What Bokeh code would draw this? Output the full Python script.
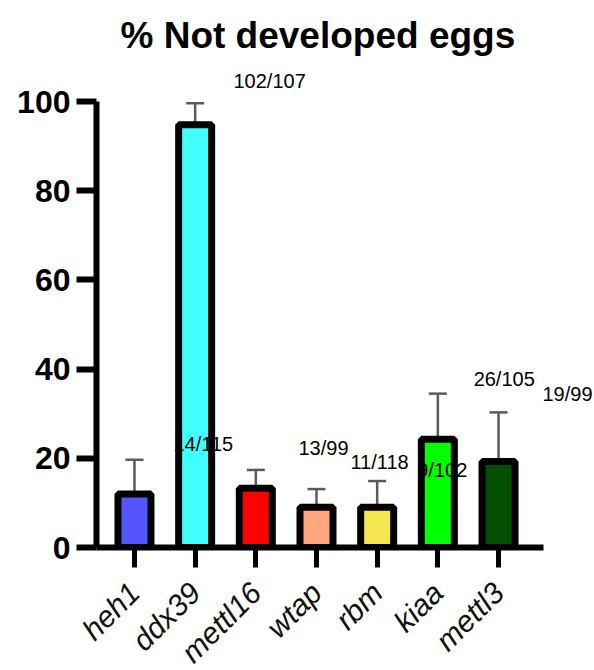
import numpy as np
from bokeh.plotting import figure
from bokeh.models import Range1d, FixedTicker, LabelSet, ColumnDataSource, Whisker, TeeHead
from bokeh.core.properties import value
from bokeh.embed import file_html
from bokeh.resources import INLINE

# ---- data ----
genes = ["heh1", "ddx39", "mettl16", "wtap", "rbm", "kiaa", "mettl3"]
pct_not_developed = [12.0, 94.8, 13.3, 9.0, 9.0, 24.3, 19.3]
err_sd = [7.7, 4.8, 4.1, 4.1, 5.9, 10.2, 11.0]
bar_colors = ["#5555FF", "#40FFFF", "#FF0000", "#FFA880", "#F5E650", "#00FF00", "#005000"]
count_labels = ["14/115", "102/107", "13/99", "11/118", "9/102", "26/105", "19/99"]
y_ticks = [0, 20, 40, 60, 80, 100]

# ---- layout of the count labels (as placed in the original) ----
label_dx = [0.643, 0.632, 0.703, 0.56, 0.66, 0.59, 0.725]
label_y = [23.3, 104.7, 22.4, 19.1, 17.3, 37.7, 34.5]

x = np.arange(len(genes))
upper = [v + e for v, e in zip(pct_not_developed, err_sd)]

src = ColumnDataSource(dict(x=x, top=pct_not_developed, upper=upper,
                            lower=pct_not_developed, color=bar_colors))
lsrc = ColumnDataSource(dict(lx=x + np.array(label_dx), ly=label_y, txt=count_labels))

FONT = "Liberation Sans"

p = figure(frame_width=498, frame_height=487, output_backend="svg", toolbar_location=None,
           x_range=Range1d(-0.626, 7.582), y_range=Range1d(0, 109.2),
           title="% Not developed eggs", min_border_left=96, min_border_right=0,
           min_border_top=60, min_border_bottom=0)

p.title.text_font = FONT
p.title.text_font_size = "37px"
p.title.text_font_style = "bold"
p.title.align = "left"
p.title.offset = 24
p.title.text_color = "black"

p.outline_line_color = None
p.xgrid.visible = False
p.ygrid.visible = False
p.background_fill_color = "white"

wh = Whisker(base="x", upper="upper", lower="lower", source=src, dimension="height",
             line_color="#5a5a5a", line_width=2.5, level="underlay",
             upper_head=TeeHead(size=18, line_color="#5a5a5a", line_width=2.5),
             lower_head=None)
p.add_layout(wh)

p.vbar(x="x", top="top", bottom=0, width=0.544, source=src,
       fill_color="color", line_color="black", line_width=7)

labels = LabelSet(x="lx", y="ly", text="txt", source=lsrc, text_align="left",
                  text_baseline="middle", text_font=value(FONT), text_font_size=value("20px"),
                  text_color="black")
p.add_layout(labels)

# y axis
ya = p.yaxis[0]
ya.ticker = FixedTicker(ticks=y_ticks)
ya.bounds = (0, 100)
ya.axis_line_width = 6
ya.major_tick_line_width = 6
ya.major_tick_out = 20
ya.major_tick_in = 0
ya.minor_tick_line_color = None
ya.major_label_text_font = FONT
ya.major_label_text_font_size = "32px"
ya.major_label_text_font_style = "bold"
ya.major_label_text_color = "black"
ya.major_label_standoff = 6

# x axis
xa = p.xaxis[0]
xa.ticker = FixedTicker(ticks=list(x))
xa.bounds = (-0.626, 6.74)
xa.major_label_overrides = {int(i): g for i, g in zip(x, genes)}
xa.axis_line_width = 6
xa.major_tick_line_width = 5
xa.major_tick_out = 20
xa.major_tick_in = 0
xa.minor_tick_line_color = None
xa.major_label_orientation = np.pi / 4
xa.major_label_text_font = FONT
xa.major_label_text_font_size = "30px"
xa.major_label_text_font_style = "italic"
xa.major_label_text_color = "#111111"
xa.major_label_standoff = 20

open("out.html", "w").write(file_html(p, INLINE))
